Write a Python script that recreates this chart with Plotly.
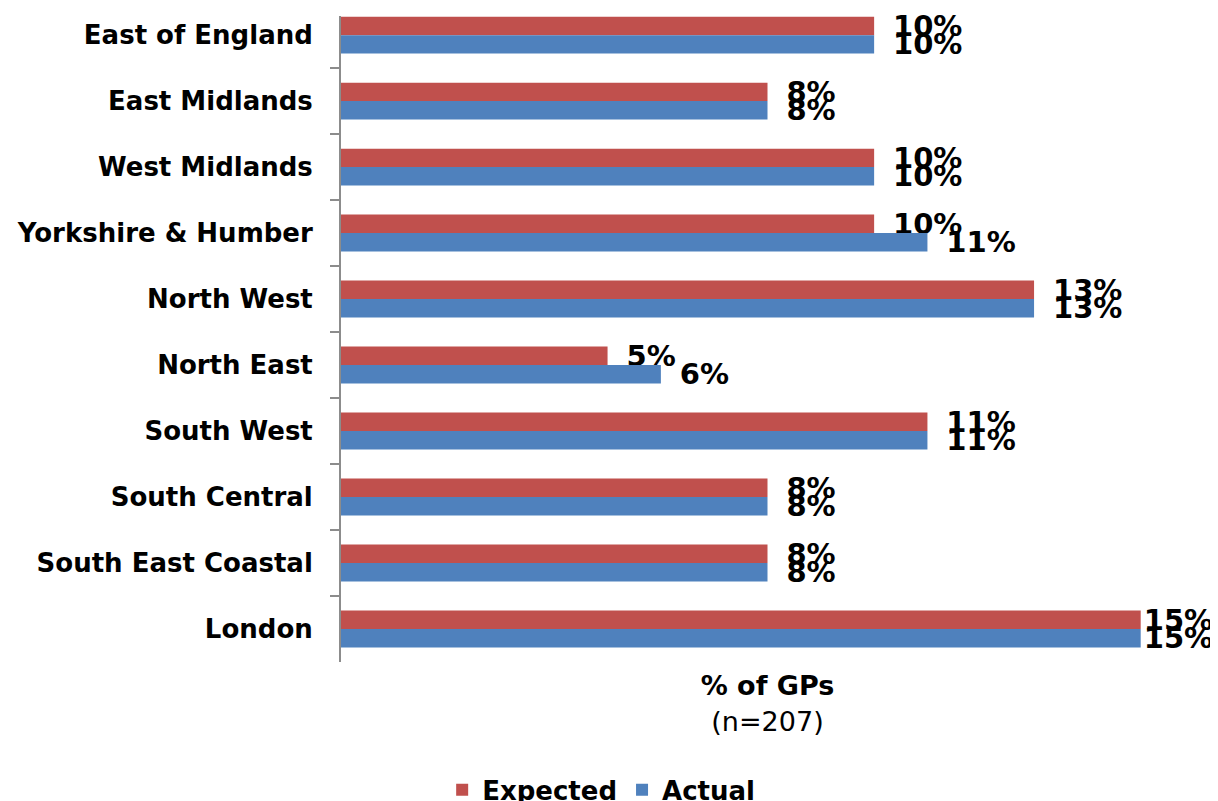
import plotly.graph_objects as go

# regions, top to bottom
regions = [
    "East of England",
    "East Midlands",
    "West Midlands",
    "Yorkshire & Humber",
    "North West",
    "North East",
    "South West",
    "South Central",
    "South East Coastal",
    "London",
]
expected = [10, 8, 10, 10, 13, 5, 11, 8, 8, 15]
actual = [10, 8, 10, 11, 13, 6, 11, 8, 8, 15]

RED = "#C0504D"
BLUE = "#4F81BD"
FONT = "DejaVu Sans"


def label(v, top):
    # labels sit a little away from the bar end, except where they would
    # run off the right edge (the longest bars), which hug the bar instead
    pad = "" if v >= top else "\u00a0\u2009"
    return f"{pad}{v}%"


def bar_trace(name, values, color):
    top = max(max(expected), max(actual))
    return go.Bar(
        name=name,
        y=regions,
        x=values,
        orientation="h",
        marker=dict(color=color, line=dict(width=0)),
        text=[label(v, top) for v in values],
        textposition="outside",
        textfont=dict(family=FONT, size=29, color="black", weight="bold"),
        constraintext="none",
        cliponaxis=False,
        hoverinfo="skip",
    )


fig = go.Figure()
fig.add_trace(bar_trace("Expected", expected, RED))
fig.add_trace(bar_trace("Actual", actual, BLUE))

# the page body adds 8px on the left and top, so the figure is a bit smaller
fig.update_layout(
    width=1210,
    height=793,
    barmode="group",
    bargap=0.44,
    bargroupgap=0,
    plot_bgcolor="white",
    paper_bgcolor="white",
    margin=dict(l=333, r=24, t=8, b=139, autoexpand=False),
    font=dict(family=FONT, color="black"),
    legend=dict(
        orientation="h",
        x=0.305,
        xanchor="center",
        y=-0.198,
        yanchor="middle",
        font=dict(family=FONT, size=26, color="black", weight="bold"),
        itemwidth=30,
        bgcolor="rgba(0,0,0,0)",
    ),
    showlegend=True,
)

fig.update_xaxes(
    range=[0, 16],
    showgrid=False,
    zeroline=False,
    showline=False,
    showticklabels=False,
    ticks="",
    title=dict(
        text="<b>% of GPs</b><br>(n=207)",
        font=dict(family=FONT, size=27, color="black"),
        standoff=14,
    ),
)

fig.update_yaxes(
    type="category",
    categoryorder="array",
    categoryarray=regions,
    range=[9.5, -0.29],
    showgrid=False,
    zeroline=False,
    showline=True,
    linecolor="#8C8C8C",
    linewidth=2,
    ticks="outside",
    tickson="boundaries",
    ticklen=9,
    tickwidth=2,
    tickcolor="#8C8C8C",
    ticklabelstandoff=21,
    tickfont=dict(family=FONT, size=26, color="black", weight="bold"),
)

fig.write_html("out.html")
